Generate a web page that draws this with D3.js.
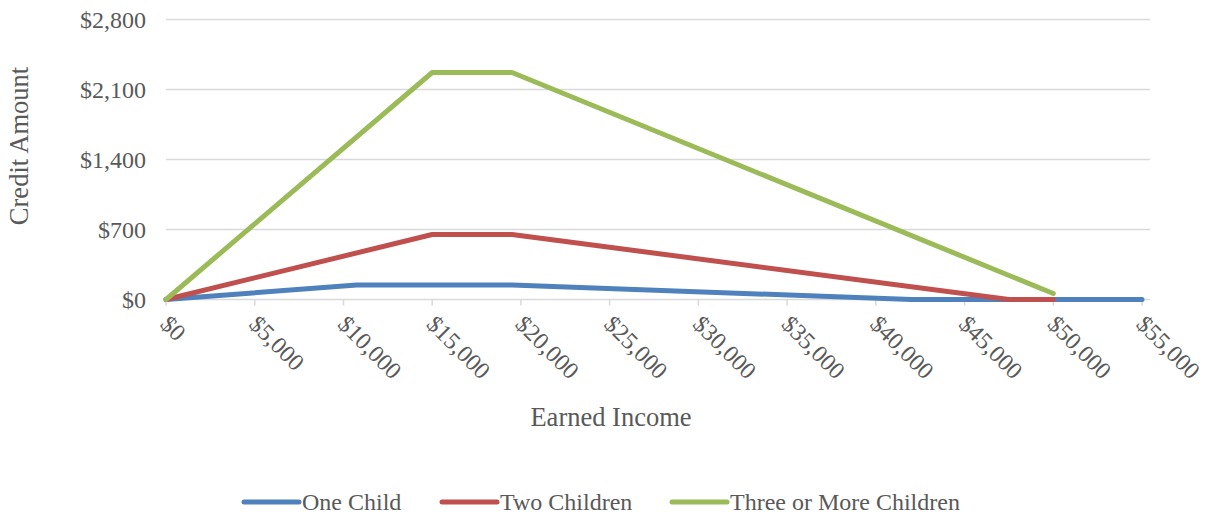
<!DOCTYPE html>
<html>
<head>
<meta charset="utf-8">
<script src="https://cdn.jsdelivr.net/npm/d3@7"></script>
<style>
  body { margin: 0; background: #fff; }
  text { font-family: "Liberation Serif", "Times New Roman", serif; fill: #595959; }
</style>
</head>
<body>
<div id="container"></div>
<script>
const dimensions = {
	width: 1212,
	height: 514,
	margin: { left: 166, right: 70, top: 19.5, bottom: 214.5 }
}

// data
const xTicks = [0, 5000, 10000, 15000, 20000, 25000, 30000, 35000, 40000, 45000, 50000, 55000];
const yTicks = [0, 700, 1400, 2100, 2800];

const oneChildIncome = [0, 10750, 19500, 42000, 55000];
const oneChildCredit = [0, 145, 145, 0, 0];

const twoChildrenIncome = [0, 15000, 19500, 47500, 50000];
const twoChildrenCredit = [0, 650, 650, 0, 0];

const threeChildrenIncome = [0, 15000, 19500, 50000];
const threeChildrenCredit = [0, 2270, 2270, 60];

const seriesNames = ["One Child", "Two Children", "Three or More Children"];
const colors = ["#4F81BD", "#C0504D", "#9BBB59"];

const series = [
	{ name: seriesNames[0], xs: oneChildIncome, ys: oneChildCredit },
	{ name: seriesNames[1], xs: twoChildrenIncome, ys: twoChildrenCredit },
	{ name: seriesNames[2], xs: threeChildrenIncome, ys: threeChildrenCredit },
];

const svg = d3.select("#container")
	.append("svg")
	.attr("width", dimensions.width)
	.attr("height", dimensions.height)

const x = d3.scaleLinear()
	.domain([0, 55000])
	.range([dimensions.margin.left, dimensions.width - dimensions.margin.right])

const y = d3.scaleLinear()
	.domain([0, 2800])
	.range([dimensions.height - dimensions.margin.bottom, dimensions.margin.top])

const money = d3.format("$,")

// gridlines
svg.append("g")
	.selectAll("line")
	.data(yTicks)
	.enter()
	.append("line")
	.attr("x1", x(0))
	.attr("x2", x(55000) + 8)
	.attr("y1", d => y(d))
	.attr("y2", d => y(d))
	.attr("stroke", "#D9D9D9")
	.attr("stroke-width", 1.5)

// y tick labels
svg.append("g")
	.selectAll("text")
	.data(yTicks)
	.enter()
	.append("text")
	.attr("x", x(0) - 20)
	.attr("y", d => y(d))
	.attr("dy", "0.35em")
	.attr("text-anchor", "end")
	.style("font-size", "24px")
	.text(d => money(d))

// x tick marks
svg.append("g")
	.selectAll("line")
	.data(xTicks)
	.enter()
	.append("line")
	.attr("x1", d => x(d))
	.attr("x2", d => x(d))
	.attr("y1", y(0))
	.attr("y2", y(0) + 6)
	.attr("stroke", "#D9D9D9")
	.attr("stroke-width", 1.5)

// x tick labels, rotated
svg.append("g")
	.selectAll("text")
	.data(xTicks)
	.enter()
	.append("text")
	.attr("transform", d => `translate(${x(d) - 1}, ${y(0) + 20}) rotate(45)`)
	.attr("dy", "0.35em")
	.attr("text-anchor", "start")
	.style("font-size", "24px")
	.text(d => money(d))

// lines
const line = d3.line()
	.x(d => x(d[0]))
	.y(d => y(d[1]))

svg.append("g")
	.selectAll("path")
	.data(series)
	.enter()
	.append("path")
	.attr("d", d => line(d.xs.map((v, i) => [v, d.ys[i]])))
	.attr("fill", "none")
	.attr("stroke", (d, i) => colors[i])
	.attr("stroke-width", 5)
	.attr("stroke-linejoin", "round")
	.attr("stroke-linecap", "round")

// axis titles
svg.append("text")
	.attr("transform", `translate(28, 146) rotate(-90)`)
	.attr("text-anchor", "middle")
	.style("font-size", "26.5px")
	.text("Credit Amount")

svg.append("text")
	.attr("x", 611)
	.attr("y", 426)
	.attr("text-anchor", "middle")
	.style("font-size", "26.5px")
	.text("Earned Income")

// legend
const legendX = [244, 442, 672];
const legend = svg.append("g")
	.selectAll("g")
	.data(series)
	.enter()
	.append("g")
	.attr("transform", (d, i) => `translate(${legendX[i]}, 502)`)

legend.append("line")
	.attr("x1", 0)
	.attr("x2", 55)
	.attr("stroke", (d, i) => colors[i])
	.attr("stroke-width", 5)
	.attr("stroke-linecap", "round")

legend.append("text")
	.attr("x", 58)
	.attr("dy", "0.35em")
	.style("font-size", "24px")
	.text(d => d.name)
</script>
</body>
</html>
